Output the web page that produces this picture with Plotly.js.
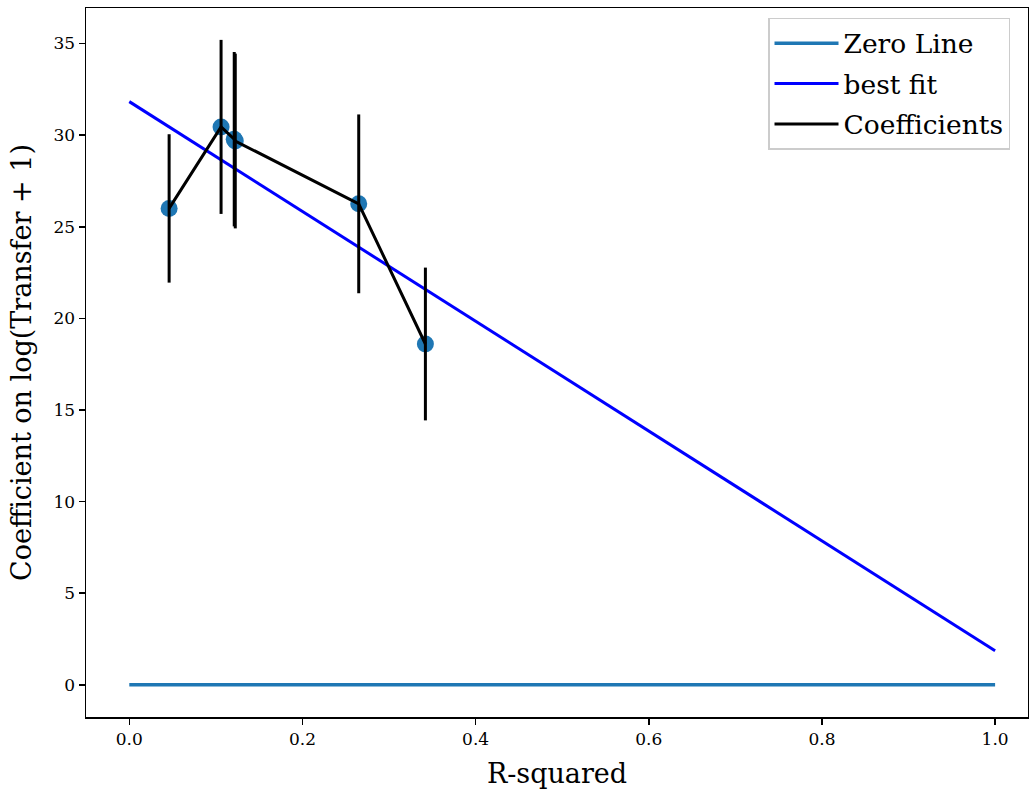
<!DOCTYPE html>
<html>
<head>
<meta charset="utf-8">
<script src="https://cdn.plot.ly/plotly-3.0.1.min.js"></script>
<style>html,body{margin:0;padding:0;background:#fff;}#chart{width:1029px;height:789px;}</style>
</head>
<body>
<div id="chart"></div>
<script>
// Data
const rSquared = [0.046, 0.106, 0.1212, 0.1224, 0.265, 0.342];
const coefficients = [26.0, 30.45, 29.78, 29.68, 26.25, 18.6];
const coefErrors = [4.05, 4.75, 4.76, 4.77, 4.88, 4.17];
const zeroLineX = [0, 1];
const zeroLineY = [0, 0];
const bestFitX = [0, 1];
const bestFitY = [31.83, 1.86];
const xTicks = [0.0, 0.2, 0.4, 0.6, 0.8, 1.0];
const xTickLabels = ['0.0', '0.2', '0.4', '0.6', '0.8', '1.0'];
const yTicks = [0, 5, 10, 15, 20, 25, 30, 35];
const yTickLabels = ['0', '5', '10', '15', '20', '25', '30', '35'];

const FONT = 'DejaVu Serif';

const traces = [
  {
    x: zeroLineX, y: zeroLineY, mode: 'lines', name: 'Zero Line',
    line: {color: '#1f77b4', width: 3.5}, legendgroup: 'a'
  },
  {
    x: bestFitX, y: bestFitY, mode: 'lines', name: 'best fit',
    line: {color: '#0000ff', width: 3}, legendgroup: 'b'
  },
  {
    x: rSquared, y: coefficients, mode: 'markers', name: 'points',
    marker: {color: '#1f77b4', size: 17}, showlegend: false
  },
  {
    x: rSquared, y: coefficients, mode: 'lines', name: 'Coefficients',
    line: {color: '#000000', width: 3}, legendgroup: 'c',
    error_y: {type: 'data', array: coefErrors, visible: true, color: '#000000', thickness: 3, width: 0}
  }
];

const layout = {
  width: 1029, height: 789,
  margin: {l: 86, r: 1, t: 8, b: 72},
  paper_bgcolor: '#fff', plot_bgcolor: '#fff',
  font: {family: FONT, color: '#000'},
  showlegend: true,
  legend: {
    x: 0.724, y: 0.986, xanchor: 'left', yanchor: 'top',
    bgcolor: 'rgba(255,255,255,0.8)', bordercolor: '#cccccc', borderwidth: 1.5,
    font: {family: FONT, size: 26.5, color: '#000'},
    traceorder: 'grouped', tracegroupgap: 3, itemwidth: 64
  },
  xaxis: {
    range: [-0.05, 1.038],
    tickvals: xTicks, ticktext: xTickLabels,
    ticks: 'outside', ticklen: 6, tickwidth: 1.5, tickcolor: '#000',
    showline: true, linecolor: '#000', linewidth: 1.5, mirror: true,
    showgrid: false, zeroline: false,
    tickfont: {family: FONT, size: 17, color: '#000'},
    title: {text: 'R-squared', font: {family: FONT, size: 27, color: '#000'}, standoff: 17}
  },
  yaxis: {
    range: [-1.76, 36.94],
    tickvals: yTicks, ticktext: yTickLabels,
    ticks: 'outside', ticklen: 6, tickwidth: 1.5, tickcolor: '#000',
    showline: true, linecolor: '#000', linewidth: 1.5, mirror: true,
    showgrid: false, zeroline: false,
    tickfont: {family: FONT, size: 17, color: '#000'},
    title: {text: 'Coefficient on log(Transfer + 1)', font: {family: FONT, size: 27, color: '#000'}, standoff: 14}
  }
};

Plotly.newPlot('chart', traces, layout, {displayModeBar: false, staticPlot: true});
</script>
</body>
</html>
